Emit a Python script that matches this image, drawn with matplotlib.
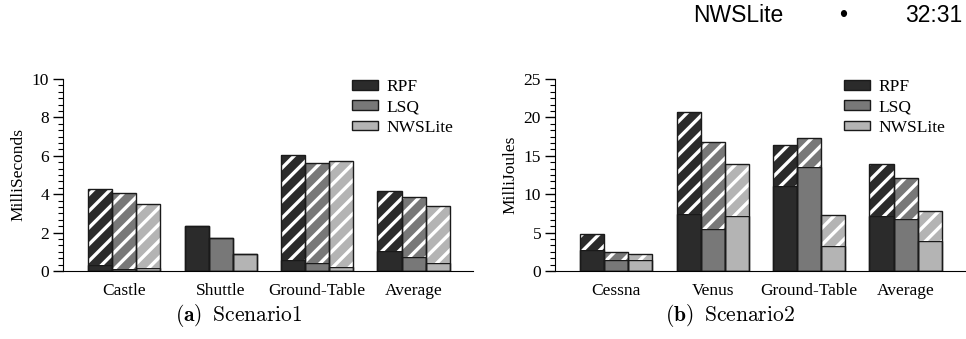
import matplotlib
matplotlib.use("Agg")
import matplotlib.pyplot as plt
import numpy as np
from matplotlib.patches import Patch
from matplotlib.ticker import AutoMinorLocator, MultipleLocator

plt.rcParams["font.family"] = "Liberation Serif"
plt.rcParams["font.size"] = 12.5
plt.rcParams["mathtext.fontset"] = "cm"
plt.rcParams["hatch.linewidth"] = 2.4

SERIES = ["RPF", "LSQ", "NWSLite"]
COLORS = ["#2b2b2b", "#787878", "#b4b4b4"]
EDGE = "#1a1a1a"

# Scenario1 (milliseconds): solid bottom part and total height of each bar
s1_groups = ["Castle", "Shuttle", "Ground-Table", "Average"]
s1_solid = {
    "RPF": [0.30, 2.33, 0.59, 1.06],
    "LSQ": [0.12, 1.74, 0.40, 0.75],
    "NWSLite": [0.16, 0.90, 0.19, 0.43],
}
s1_total = {
    "RPF": [4.26, 2.33, 6.02, 4.19],
    "LSQ": [4.07, 1.74, 5.63, 3.83],
    "NWSLite": [3.51, 0.90, 5.74, 3.39],
}

# Scenario2 (millijoules)
s2_groups = ["Cessna", "Venus", "Ground-Table", "Average"]
s2_solid = {
    "RPF": [2.78, 7.48, 11.04, 7.13],
    "LSQ": [1.39, 5.43, 13.57, 6.83],
    "NWSLite": [1.39, 7.22, 3.30, 3.96],
}
s2_total = {
    "RPF": [4.78, 20.70, 16.35, 13.96],
    "LSQ": [2.48, 16.80, 17.26, 12.17],
    "NWSLite": [2.26, 13.87, 7.26, 7.78],
}


def draw_panel(ax, groups, solid, total, ylabel, ymax, ystep):
    x = np.arange(len(groups))
    width = 0.25
    for i, (name, color) in enumerate(zip(SERIES, COLORS)):
        xs = x + (i - 1) * width
        bottom = np.array(solid[name])
        top = np.array(total[name])
        ax.bar(xs, bottom, width, color=color, edgecolor=EDGE, linewidth=1.0, zorder=2)
        ax.bar(xs, top - bottom, width, bottom=bottom, color=color, edgecolor="white",
               hatch="//", linewidth=0, zorder=2)
        ax.bar(xs, top, width, fill=False, edgecolor=EDGE, linewidth=1.0, zorder=3)

    ax.set_xlim(-0.635, 3.615)
    ax.set_ylim(0, ymax)
    ax.yaxis.set_major_locator(MultipleLocator(ystep))
    ax.yaxis.set_minor_locator(AutoMinorLocator(6))
    ax.set_xticks(x)
    ax.set_xticklabels(groups)
    ax.tick_params(axis="x", length=0, pad=9)
    ax.tick_params(axis="y", which="major", length=7, width=1, pad=3)
    ax.tick_params(axis="y", which="minor", length=3.5, width=0.8)
    ax.spines[["top", "right"]].set_visible(False)
    ax.set_ylabel(ylabel, labelpad=4)

    handles = [Patch(facecolor=c, edgecolor=EDGE, linewidth=1.0) for c in COLORS]
    ax.legend(handles, SERIES, loc="upper left", bbox_to_anchor=(0.705, 1.0),
              frameon=False, borderpad=0, borderaxespad=0, handlelength=1.5,
              handleheight=0.5, handletextpad=0.5, labelspacing=0.25)


fig = plt.figure(figsize=(9.66, 3.39), dpi=100)
ax1 = fig.add_axes([0.0652, 0.2006, 0.4244, 0.5664])
ax2 = fig.add_axes([0.5745, 0.2006, 0.4244, 0.5664])

draw_panel(ax1, s1_groups, s1_solid, s1_total, "MilliSeconds", 10, 2)
draw_panel(ax2, s2_groups, s2_solid, s2_total, "MilliJoules", 25, 5)

fig.text(0.247, 0.068, r"$\mathbf{(a)}\;\;\mathrm{Scenario1}$", ha="center", va="center", fontsize=15.5)
fig.text(0.756, 0.068, r"$\mathbf{(b)}\;\;\mathrm{Scenario2}$", ha="center", va="center", fontsize=15.5)

fig.text(0.7174, 0.955, "NWSLite", family="Liberation Sans", fontsize=16.5, ha="left", va="center")
fig.text(0.8727, 0.955, "•", family="Liberation Sans", fontsize=16.5, ha="center", va="center")
fig.text(0.9959, 0.955, "32:31", family="Liberation Sans", fontsize=16.5, ha="right", va="center")

fig.savefig("out.png", dpi=100)
